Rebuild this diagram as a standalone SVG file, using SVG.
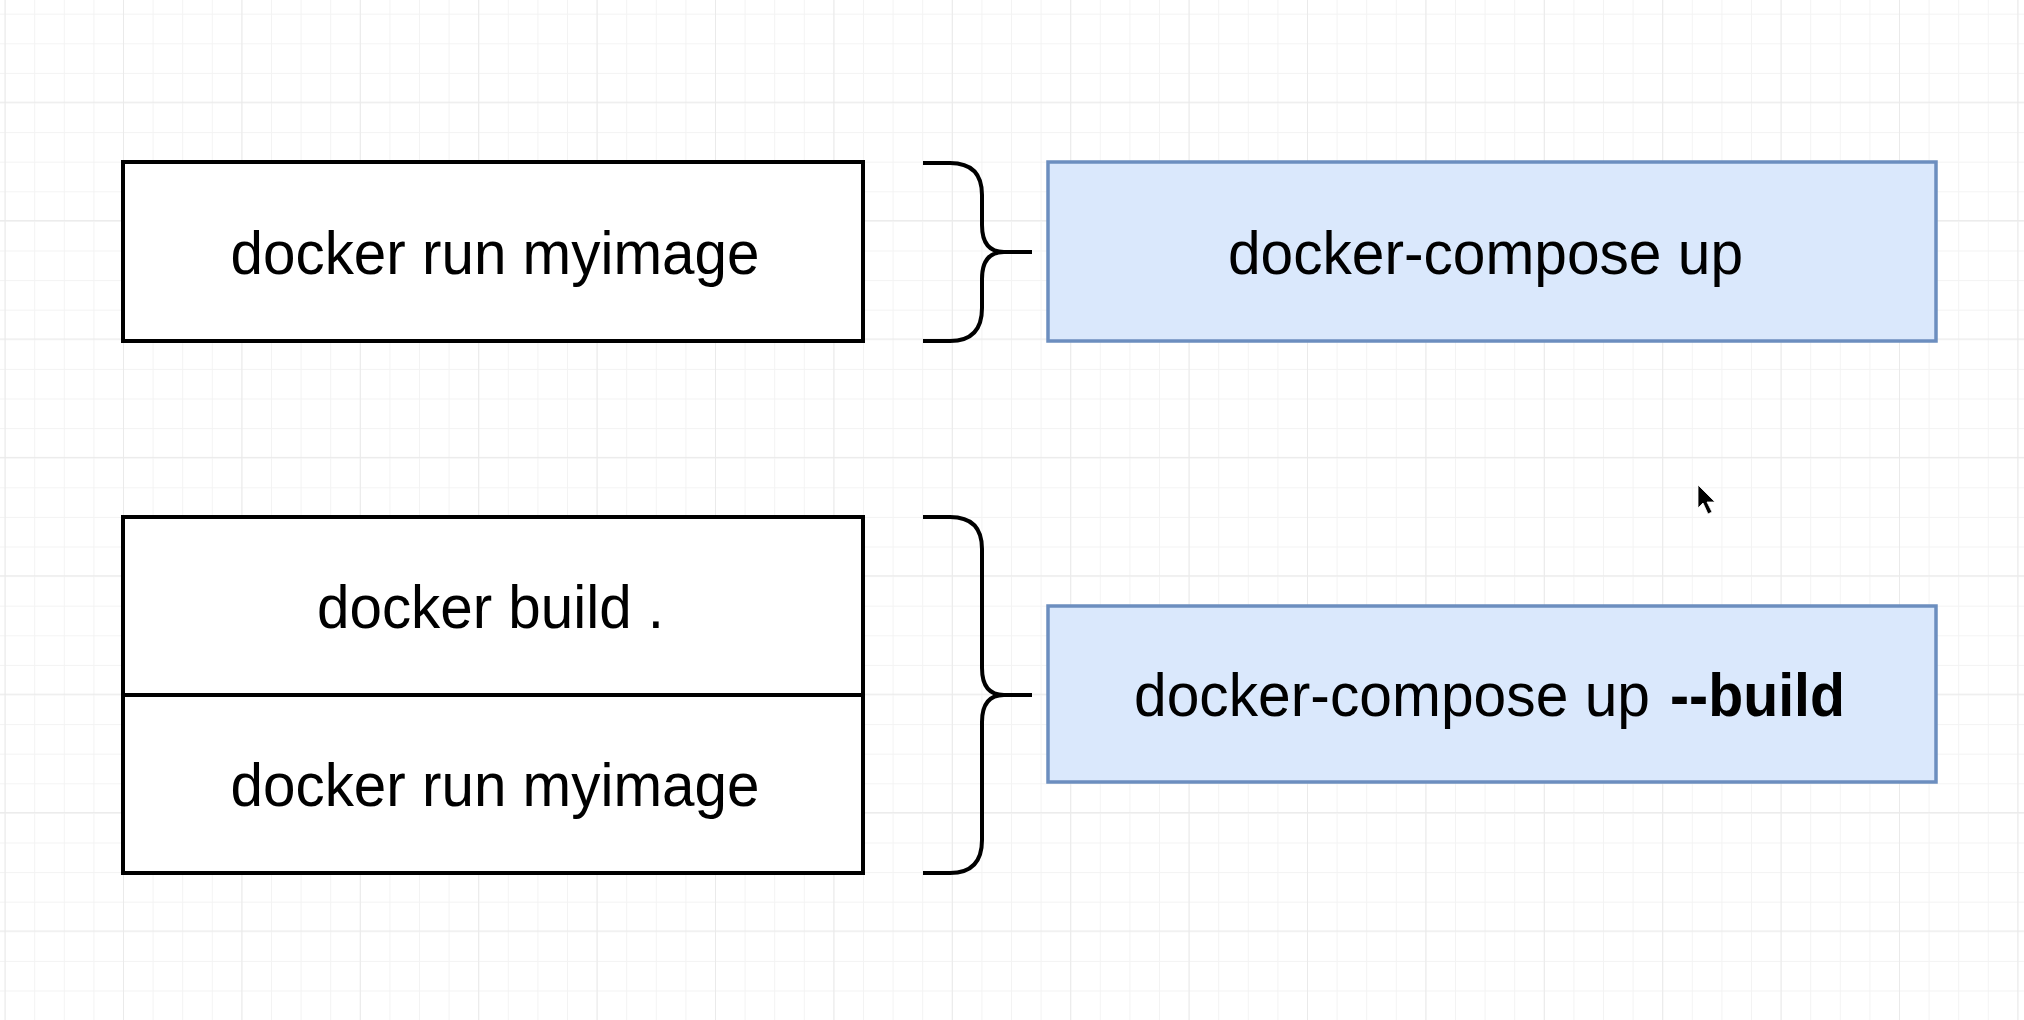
<svg xmlns="http://www.w3.org/2000/svg" width="2024" height="1020" viewBox="0 0 2024 1020">
  <defs>
    <pattern id="gridMinor" patternUnits="userSpaceOnUse" x="4.6" y="13.7" width="29.6" height="29.6">
      <rect x="0" y="0" width="1" height="29.6" fill="#f3f3f3"/>
      <rect x="0" y="0" width="29.6" height="1" fill="#f3f3f3"/>
    </pattern>
    <pattern id="gridMajor" patternUnits="userSpaceOnUse" x="4.6" y="101.7" width="118.4" height="118.4">
      <rect x="0" y="0" width="1" height="118.4" fill="#eaeaea"/>
      <rect x="0" y="0" width="118.4" height="1" fill="#eaeaea"/>
    </pattern>
    <style>
      .box { fill: #ffffff; stroke: #000000; stroke-width: 4; }
      .blue { fill: #dae8fc; stroke: #6c8ebf; stroke-width: 3.5; }
      .div { stroke: #000000; stroke-width: 4; fill: none; }
      .brace { fill: none; stroke: #000000; stroke-width: 4; stroke-linecap: butt; stroke-linejoin: round; }
      .lbl { font-family: "Liberation Sans", Arial, Helvetica, sans-serif; font-size: 62px; fill: #000000; text-anchor: middle; }
      .st { text-anchor: start; }
      .b { font-weight: bold; }
    </style>
  </defs>

  <rect x="0" y="0" width="2024" height="1020" fill="#ffffff"/>
  <rect x="0" y="0" width="2024" height="1020" fill="url(#gridMinor)"/>
  <rect x="0" y="0" width="2024" height="1020" fill="url(#gridMajor)"/>

  <g id="run-box">
    <rect class="box" x="123" y="162" width="740" height="179"/>
    <text class="lbl" x="495" y="273.5" textLength="529" lengthAdjust="spacingAndGlyphs">docker run myimage</text>
  </g>

  <g id="build-run-box">
    <rect class="box" x="123" y="517" width="740" height="356"/>
    <line class="div" x1="123" y1="695" x2="863" y2="695"/>
    <text class="lbl" x="490.5" y="627.5" textLength="347" lengthAdjust="spacingAndGlyphs">docker build .</text>
    <text class="lbl" x="495" y="805.5" textLength="529" lengthAdjust="spacingAndGlyphs">docker run myimage</text>
  </g>

  <g id="compose-up">
    <rect class="blue" x="1048" y="162" width="888" height="179"/>
    <text class="lbl" x="1485.5" y="273.5" textLength="515" lengthAdjust="spacingAndGlyphs">docker-compose up</text>
  </g>

  <g id="compose-up-build">
    <rect class="blue" x="1048" y="606" width="888" height="176"/>
    <text class="lbl st" x="1134" y="715.5" textLength="516" lengthAdjust="spacingAndGlyphs">docker-compose up</text>
    <text class="lbl st b" x="1670" y="715.5" textLength="175" lengthAdjust="spacingAndGlyphs">--build</text>
  </g>

  <g id="connectors">
    <path class="brace" d="M923,163 H950 Q982,163 982,195 V225 Q982,252 1004,252 H1032 M1004,252 Q982,252 982,279 V308 Q982,341 950,341 H923"/>
    <path class="brace" d="M923,517 H950 Q982,517 982,549 V668 Q982,695 1004,695 H1032 M1004,695 Q982,695 982,722 V840 Q982,873 950,873 H923"/>
  </g>

  <g id="cursor">
    <path d="M1698,485 L1698,508 L1703,503 L1708,514 L1712,512 L1707,502 L1715,502 Z" fill="#000000" stroke="#ffffff" stroke-width="0.8"/>
  </g>
</svg>
